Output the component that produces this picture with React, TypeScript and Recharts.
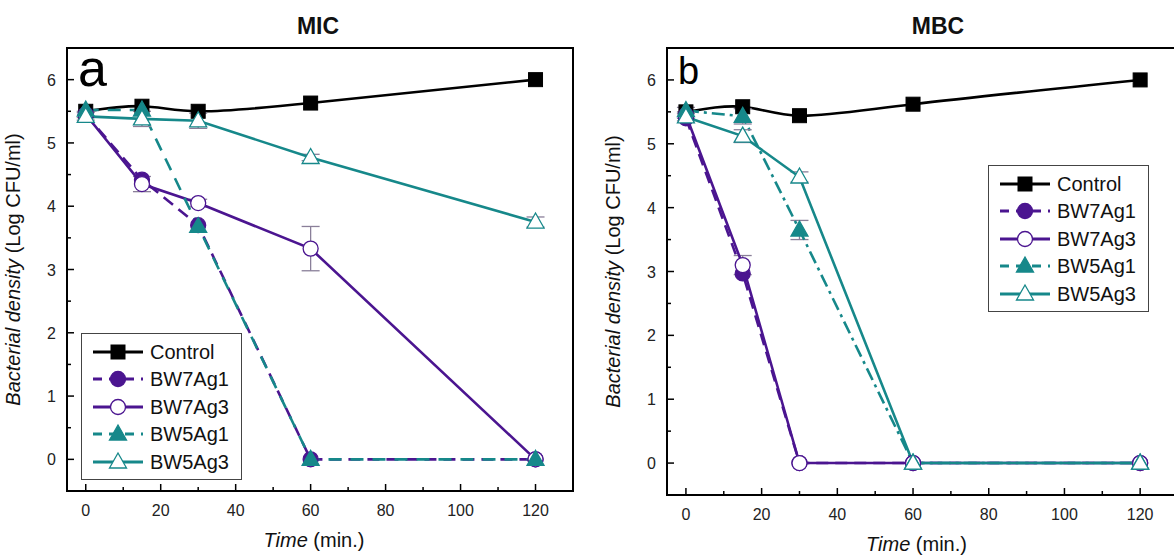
// Time-kill curves, MIC (a) and MBC (b) panels
import React from 'react'
import {
  LineChart, Line, XAxis, YAxis, ReferenceArea, ErrorBar, Legend,
} from 'recharts'

const TIME = [0, 15, 30, 60, 120]
const X_TICKS = [0, 10, 20, 30, 40, 50, 60, 70, 80, 90, 100, 110, 120]
const Y_TICKS = [0, 0.5, 1, 1.5, 2, 2.5, 3, 3.5, 4, 4.5, 5, 5.5, 6]

// panel a — MIC
const micControl = [5.5, 5.58, 5.5, 5.63, 6.0]
const micBW7Ag1 = [5.45, 4.42, 3.7, 0, 0]
const micBW7Ag3 = [5.45, 4.35, 4.05, 3.33, 0]
const micBW5Ag1 = [5.52, 5.52, 3.68, 0, 0]
const micBW5Ag3 = [5.42, 5.38, 5.35, 4.77, 3.75]
const micErrBW7Ag3 = [0.05, 0.12, 0.06, 0.35, 0]
const micErrBW5Ag3 = [0.06, 0.12, 0.12, 0.05, 0.08]

// panel b — MBC
const mbcControl = [5.5, 5.58, 5.44, 5.62, 6.0]
const mbcBW7Ag1 = [5.4, 2.97, 0, 0, 0]
const mbcBW7Ag3 = [5.45, 3.1, 0, 0, 0]
const mbcBW5Ag1 = [5.52, 5.43, 3.65, 0, 0]
const mbcBW5Ag3 = [5.42, 5.12, 4.48, 0, 0]
const mbcErrBW7Ag3 = [0.05, 0.15, 0, 0, 0]
const mbcErrBW5Ag1 = [0.05, 0.12, 0.15, 0, 0]
const mbcErrBW5Ag3 = [0.06, 0.1, 0.08, 0, 0]

const PURPLE = '#4b1590'
const TEAL = '#16888a'
const FONT = '"Liberation Sans", Arial, sans-serif'

type Shape = 'square' | 'circle' | 'triangle'
interface SeriesDef {
  key: string
  name: string
  color: string
  shape: Shape
  filled: boolean
  dash?: string
  smooth?: boolean
}

const SERIES_A: SeriesDef[] = [
  { key: 'control', name: 'Control', color: '#000', shape: 'square', filled: true, smooth: true },
  { key: 'bw7ag1', name: 'BW7Ag1', color: PURPLE, shape: 'circle', filled: true, dash: '12 7' },
  { key: 'bw7ag3', name: 'BW7Ag3', color: PURPLE, shape: 'circle', filled: false },
  { key: 'bw5ag1', name: 'BW5Ag1', color: TEAL, shape: 'triangle', filled: true, dash: '13 9' },
  { key: 'bw5ag3', name: 'BW5Ag3', color: TEAL, shape: 'triangle', filled: false },
]
const SERIES_B: SeriesDef[] = SERIES_A.map((s) =>
  s.key === 'bw5ag1' ? { ...s, dash: '13 5 3 5' } : s,
)

const micData = TIME.map((t, i) => ({
  time: t,
  control: micControl[i],
  bw7ag1: micBW7Ag1[i],
  bw7ag3: micBW7Ag3[i],
  bw5ag1: micBW5Ag1[i],
  bw5ag3: micBW5Ag3[i],
  err_bw7ag3: micErrBW7Ag3[i],
  err_bw5ag3: micErrBW5Ag3[i],
}))

const mbcData = TIME.map((t, i) => ({
  time: t,
  control: mbcControl[i],
  bw7ag1: mbcBW7Ag1[i],
  bw7ag3: mbcBW7Ag3[i],
  bw5ag1: mbcBW5Ag1[i],
  bw5ag3: mbcBW5Ag3[i],
  err_bw7ag3: mbcErrBW7Ag3[i],
  err_bw5ag1: mbcErrBW5Ag1[i],
  err_bw5ag3: mbcErrBW5Ag3[i],
}))

function Marker({ shape, filled, color, cx, cy }: { shape: Shape; filled: boolean; color: string; cx: number; cy: number }) {
  const fill = filled ? color : '#fff'
  if (shape === 'square') {
    return <rect x={cx - 7} y={cy - 7} width={14} height={14} fill={fill} stroke={color} strokeWidth={1} />
  }
  if (shape === 'circle') {
    return <circle cx={cx} cy={cy} r={7.5} fill={fill} stroke={color} strokeWidth={1.3} />
  }
  const pts = `${cx},${cy - 9} ${cx - 8.5},${cy + 6} ${cx + 8.5},${cy + 6}`
  return <polygon points={pts} fill={fill} stroke={color} strokeWidth={1.3} />
}

function makeYTick(axisX: number) {
  return function YTick(props: any) {
    const { y, payload } = props
    const major = Number.isInteger(payload.value)
    return (
      <g>
        <line x1={axisX} x2={axisX + (major ? 7 : 4)} y1={y} y2={y} stroke="#000" strokeWidth={1.5} />
        {major && (
          <text x={axisX - 11} y={y} dy={6} textAnchor="end" fontSize={16} fontFamily={FONT} fill="#222">
            {payload.value}
          </text>
        )}
      </g>
    )
  }
}

function makeXTick(axisY: number) {
  return function XTick(props: any) {
    const { x, payload } = props
    const major = payload.value % 20 === 0
    return (
      <g>
        <line x1={x} x2={x} y1={axisY} y2={axisY - (major ? 7 : 4)} stroke="#000" strokeWidth={1.5} />
        {major && (
          <text x={x} y={axisY + 25} textAnchor="middle" fontSize={16} fontFamily={FONT} fill="#222">
            {payload.value}
          </text>
        )}
      </g>
    )
  }
}

function YLabel(props: any) {
  const { viewBox } = props
  const x = viewBox.x - 7
  const y = viewBox.y + viewBox.height / 2
  return (
    <text x={x} y={y} transform={`rotate(-90 ${x} ${y})`} textAnchor="middle" fontSize={20} fontFamily={FONT} fill="#111">
      <tspan fontStyle="italic">Bacterial density</tspan>
      <tspan> (Log CFU/ml)</tspan>
    </text>
  )
}

function XLabel(props: any) {
  const { viewBox } = props
  const x = viewBox.x + viewBox.width / 2 - 6
  return (
    <text x={x} y={viewBox.y + 56} textAnchor="middle" fontSize={20} fontFamily={FONT} fill="#111">
      <tspan fontStyle="italic">Time</tspan>
      <tspan> (min.)</tspan>
    </text>
  )
}

function LegendBox({ series, width }: { series: SeriesDef[]; width: number }) {
  return (
    <div style={{ width, border: '1px solid #444', background: '#fff', padding: '4px 0 3px 0', fontFamily: FONT }}>
      {series.map((s) => (
        <div key={s.key} style={{ display: 'flex', alignItems: 'center', height: 27.5 }}>
          <svg width={66} height={26} style={{ flex: 'none' }}>
            <line x1={11} x2={61} y1={13} y2={13} stroke={s.color} strokeWidth={3}
              strokeDasharray={s.dash ? '9 7' : undefined} />
            <Marker shape={s.shape} filled={s.filled} color={s.color} cx={36} cy={13} />
          </svg>
          <span style={{ fontSize: 20, color: '#111', marginLeft: 2, lineHeight: '20px' }}>{s.name}</span>
        </div>
      ))}
    </div>
  )
}

interface PanelProps {
  data: Record<string, number>[]
  series: SeriesDef[]
  title: string
  letter: string
  letterSize: number
  letterTop: number
  bottom: number
  right: number
  legendPos: { left: number; top: number; width: number }
  titleX: number
}

function Panel({ data, series, title, letter, letterSize, letterTop, bottom, right, legendPos, titleX }: PanelProps) {
  const W = 600
  const H = 558
  const left = 67
  const top = 48
  const axisY = H - bottom - 40
  return (
    <div style={{ position: 'relative', width: W, height: H }}>
      <LineChart width={W} height={H} data={data} margin={{ top, right, left: 27, bottom }}>
        <ReferenceArea x1={-5} x2={130} y1={-0.5} y2={6.5} fill="none" stroke="#000" strokeWidth={2} fillOpacity={0} ifOverflow="visible" />
        <XAxis
          dataKey="time"
          type="number"
          domain={[-5, 130]}
          ticks={X_TICKS}
          interval={0}
          height={40}
          tickLine={false}
          axisLine={{ stroke: '#000', strokeWidth: 2 }}
          tick={makeXTick(axisY)}
          label={<XLabel />}
        />
        <YAxis
          type="number"
          domain={[-0.5, 6.5]}
          ticks={Y_TICKS}
          interval={0}
          width={40}
          tickLine={false}
          axisLine={{ stroke: '#000', strokeWidth: 2 }}
          tick={makeYTick(left)}
          label={<YLabel />}
        />
        <Legend
          layout="vertical"
          align="center"
          verticalAlign="middle"
          content={() => <LegendBox series={series} width={legendPos.width} />}
          wrapperStyle={{ position: 'absolute', left: legendPos.left, top: legendPos.top, width: 'auto' }}
        />
        {series.map((s) => (
          <Line
            key={s.key}
            dataKey={s.key}
            name={s.name}
            type={s.smooth ? 'natural' : 'linear'}
            stroke={s.color}
            strokeWidth={2.6}
            strokeDasharray={s.dash}
            isAnimationActive={false}
            dot={(p: any) => <Marker key={`${s.key}-${p.index}`} shape={s.shape} filled={s.filled} color={s.color} cx={p.cx} cy={p.cy} />}
            activeDot={false}
          >
            {data[0][`err_${s.key}`] !== undefined && (
              <ErrorBar dataKey={`err_${s.key}`} width={9} stroke="#8a7f99" strokeWidth={1.3} direction="y" />
            )}
          </Line>
        ))}
      </LineChart>
      <div style={{ position: 'absolute', left: titleX, top: 13, transform: 'translateX(-50%)', fontFamily: FONT, fontWeight: 'bold', fontSize: 23, color: '#111' }}>
        {title}
      </div>
      <div style={{ position: 'absolute', left: left + 11, top: letterTop, fontFamily: FONT, fontSize: letterSize, color: '#000', lineHeight: 1 }}>
        {letter}
      </div>
    </div>
  )
}

export default function App() {
  return (
    <div style={{ position: 'absolute', left: 0, top: 0, width: 1174, height: 558, overflow: 'hidden', background: '#fff' }}>
      <div style={{ position: 'absolute', left: 0, top: 0 }}>
        <Panel data={micData} series={SERIES_A} title="MIC" letter="a" letterSize={52} letterTop={42} bottom={27} right={27}
          legendPos={{ left: 81, top: 333, width: 159 }} titleX={318} />
      </div>
      <div style={{ position: 'absolute', left: 600, top: 0 }}>
        <Panel data={mbcData} series={SERIES_B} title="MBC" letter="b" letterSize={38} letterTop={52} bottom={23} right={22}
          legendPos={{ left: 388, top: 165, width: 159 }} titleX={338} />
      </div>
    </div>
  )
}
